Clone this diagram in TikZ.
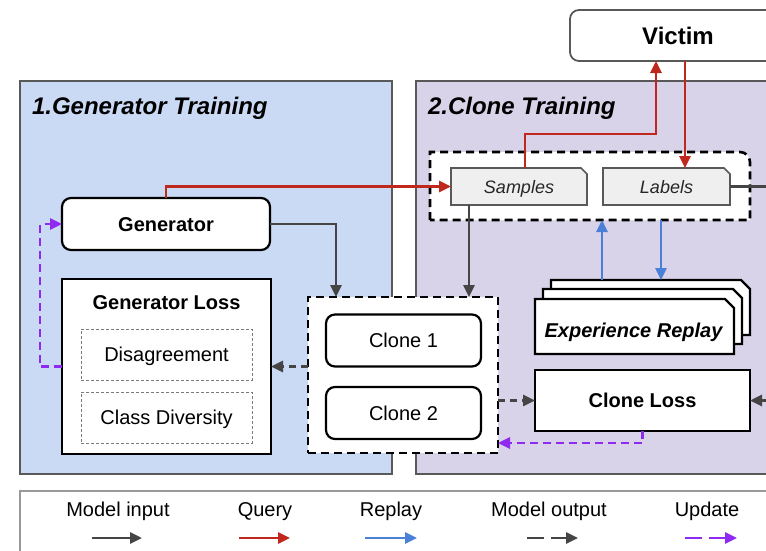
\documentclass[tikz,border=0pt]{standalone}
\usepackage{fontspec}
\setmainfont{Liberation Sans}
\usetikzlibrary{arrows.meta}
\definecolor{pblue}{HTML}{CAD9F4}
\definecolor{ppurple}{HTML}{D9D3E9}
\definecolor{pgray}{HTML}{595959}
\definecolor{cred}{HTML}{C0281E}
\definecolor{cblue}{HTML}{4A80D8}
\definecolor{cpurple}{HTML}{8F2BF0}
\definecolor{cgray}{HTML}{454545}
\definecolor{sfill}{HTML}{EFEFEF}
\newcommand\myfs[1]{\fontsize{#1}{#1}\selectfont}
\newcommand\snipdraw[3]{\filldraw[#3] (#1.south west) -- (#1.north west) -- ([xshift=-#2]#1.north east) -- ([yshift=-#2]#1.north east) -- (#1.south east) -- cycle;}
\tikzset{
  every node/.style={inner sep=0pt, outer sep=0pt},
  sz/.style 2 args={minimum width=#1pt, minimum height=#2pt},
  panel/.style={draw=pgray, line width=2.3pt, rectangle},
  box/.style={draw=black, line width=2.2pt, fill=white, rectangle},
  rbox/.style={box, rounded corners=9pt},
  thickbox/.style={box, line width=2.8pt},
  cont/.style={draw=black, line width=2.6pt, dash pattern=on 8pt off 5pt, fill=white},
  subbox/.style={draw=pgray!80, line width=0.9pt, dash pattern=on 3pt off 2pt, rectangle},
  ghost/.style={rectangle, draw=none},
  t20/.style={font=\myfs{20}, text height=14.3pt, text depth=0pt},
  b20/.style={font=\myfs{20}\bfseries, text height=14.3pt, text depth=0pt},
  bi20/.style={font=\myfs{20}\bfseries\itshape, text height=14.3pt, text depth=0pt},
  i18/.style={font=\myfs{18}\itshape, text height=12.9pt, text depth=0pt, text=black!85},
  b24/.style={font=\myfs{24}\bfseries, text height=17.2pt, text depth=0pt},
  title/.style={font=\myfs{24}\bfseries\itshape, anchor=base west},
  arr/.style={line width=2.7pt, -{Triangle[length=12pt,width=11pt]}},
  input/.style={arr, draw=cgray},
  query/.style={arr, draw=cred},
  replay/.style={arr, draw=cblue},
  output/.style={arr, draw=cgray, dash pattern=on 7pt off 5pt},
  update/.style={arr, draw=cpurple, dash pattern=on 8pt off 5pt},
  legout/.style={arr, draw=cgray, dash pattern=on 17pt off 7pt},
  legupd/.style={arr, draw=cpurple, dash pattern=on 17pt off 7pt},
}
\begin{document}
\begin{tikzpicture}[x=1pt,y=-1pt]
\useasboundingbox (0,0) rectangle (766,550);
\clip (0,0) rectangle (766,550);

% panels
\node[panel, fill=pblue, sz={372}{393}] (p1) at (206,277.5) {};
\node[panel, fill=ppurple, sz={384}{393}] (p2) at (608,277.5) {};
\node[title] (t1) at (32,114.3) {1.Generator Training};
\node[title] (t2) at (428,114.3) {2.Clone Training};

% victim
\node[draw=pgray, line width=1.8pt, fill=white, rounded corners=9pt, sz={216}{51}, b24] (vic) at (678,35.5) {};
\node[b24] (victxt) at (678,35.5) {Victim};

% samples / labels container
\node[ghost, sz={320}{68}] (cont) at (590,186) {};
\filldraw[cont] (cont.south west) -- (cont.north west) -- ([xshift=-10pt]cont.north east)
  .. controls ([xshift=-4.5pt]cont.north east) and ([yshift=-4.5pt]cont.north east) .. ([yshift=-10pt]cont.north east)
  -- (cont.south east) -- cycle;
\node[ghost, sz={136}{37}] (samp) at (519,186.5) {};
\snipdraw{samp}{6pt}{fill=sfill, draw=pgray, line width=1.6pt}
\node[i18] (samptxt) at (519,187) {Samples};
\node[ghost, sz={127}{37}] (lab) at (666.5,186.5) {};
\snipdraw{lab}{6pt}{fill=sfill, draw=pgray, line width=1.6pt}
\node[i18] (labtxt) at (666.5,187) {Labels};

% generator side
\node[rbox, sz={208}{52}, b20] (gen) at (166,224) {Generator};
\node[thickbox, sz={209}{175}] (gl) at (166.5,366.5) {};
\node[b20] (gltitle) at (166.5,302.7) {Generator Loss};
\node[subbox, sz={171}{51}, t20] (dis) at (166.5,354.5) {Disagreement};
\node[subbox, sz={171}{51}, t20] (cdiv) at (166.5,417.5) {Class Diversity};

% clones
\node[cont, sz={190}{156}] (clones) at (403,375) {};
\node[rbox, sz={155}{52}, t20] (c1) at (403.5,340.5) {Clone 1};
\node[rbox, sz={155}{52}, t20] (c2) at (403.5,413) {Clone 2};

% experience replay stack
\node[ghost, sz={199}{55}] (erb) at (650.5,307.5) {};
\snipdraw{erb}{9pt}{fill=white, draw=black, line width=2.2pt}
\node[ghost, sz={199}{55}] (erm) at (642.5,316.5) {};
\snipdraw{erm}{9pt}{fill=white, draw=black, line width=2.2pt}
\node[ghost, sz={199}{55}] (erf) at (634.5,326.5) {};
\snipdraw{erf}{9pt}{fill=white, draw=black, line width=2.2pt}
\node[bi20] (ertxt) at (633.5,330) {Experience Replay};

% clone loss
\node[thickbox, sz={215}{61}, b20] (closs) at (642.5,400.5) {Clone Loss};

% connectors
\draw[query] (gen.north) |- (samp.west);
\draw[query] ([xshift=6pt]samp.north) -- ++(0,-34) -| ([xshift=-22pt]vic.south);
\draw[query] ([xshift=7pt]vic.south) -- ([xshift=7pt]vic.south |- lab.north);
\draw[input] (lab.east) -- ++(60,0) |- (closs.east);
\draw[input] (gen.east) -| ([xshift=-67pt]clones.north);
\draw[input] ([xshift=-50pt]samp.south) -- ([xshift=-50pt]samp.south |- clones.north);
\draw[output] (clones.west |- gl.east) -- (gl.east);
\draw[output] (clones.east |- closs.west) -- (closs.west);
\draw[update] (gl.west) -- ++(-22,0) |- (gen.west);
\draw[update] (closs.south) -- ++(0,12) -- ([yshift=-68pt]clones.east);
\draw[replay] ([xshift=-48.5pt]erb.north) -- ([xshift=-48.5pt]erb.north |- cont.south);
\draw[replay] ([xshift=10.5pt]erb.north |- cont.south) -- ([xshift=10.5pt]erb.north);

% legend
\node[draw=black!40, line width=1.5pt, sz={780}{89}] (leg) at (410,535.5) {};
\node[t20] (lt1) at (118,509) {Model input};
\node[t20] (lt2) at (265,509) {Query};
\node[t20] (lt3) at (391,509) {Replay};
\node[t20] (lt4) at (549,509) {Model output};
\node[t20] (lt5) at (707,509) {Update};
\coordinate (la1) at (92,538);  \coordinate (lb1) at (142,538);
\coordinate (la2) at (239,538); \coordinate (lb2) at (290,538);
\coordinate (la3) at (365,538); \coordinate (lb3) at (417,538);
\coordinate (la4) at (527,538); \coordinate (lb4) at (578,538);
\coordinate (la5) at (685,538); \coordinate (lb5) at (737,538);
\draw[input] (la1) -- (lb1);
\draw[query] (la2) -- (lb2);
\draw[replay] (la3) -- (lb3);
\draw[legout] (la4) -- (lb4);
\draw[legupd] (la5) -- (lb5);
\end{tikzpicture}
\end{document}
